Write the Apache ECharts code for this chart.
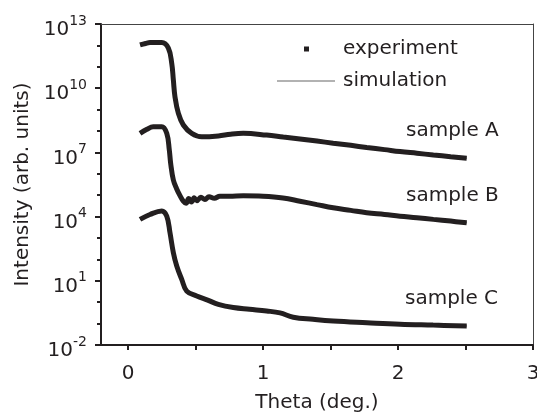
<!DOCTYPE html>
<html>
<head>
<meta charset="utf-8">
<script src="https://cdn.jsdelivr.net/npm/echarts@6/dist/echarts.min.js"></script>
<style>
    html, body { margin: 0; padding: 0; background: #fff; }
    #chart { width: 537px; height: 413px; }
</style>
</head>
<body>
<div id="chart"></div>
<script>
/* Values: theta (deg.) and log10 of intensity. */
const thetaA = [0.089, 0.13, 0.163, 0.25, 0.299, 0.324, 0.336, 0.348, 0.373, 0.41, 0.472, 0.546, 0.669, 0.76, 0.854, 1.027, 1.15, 1.274, 1.4, 1.52, 1.65, 1.768, 1.9, 2.015, 2.14, 2.262, 2.39, 2.509];
const logIntA = [12.02, 12.09, 12.13, 12.13, 11.87, 11.16, 10.38, 9.60, 8.83, 8.28, 7.89, 7.73, 7.77, 7.85, 7.89, 7.81, 7.72, 7.63, 7.53, 7.43, 7.33, 7.23, 7.13, 7.04, 6.96, 6.88, 6.80, 6.73];

const thetaB = [0.089, 0.14, 0.187, 0.25, 0.287, 0.306, 0.316, 0.336, 0.36, 0.385, 0.41, 0.43, 0.45, 0.47, 0.49, 0.51, 0.54, 0.57, 0.6, 0.64, 0.68, 0.75, 0.854, 1.0, 1.148, 1.274, 1.4, 1.52, 1.65, 1.768, 1.9, 2.015, 2.14, 2.262, 2.39, 2.509];
const logIntB = [7.89, 8.08, 8.2, 8.2, 7.89, 7.11, 6.49, 5.71, 5.3, 4.98, 4.72, 4.62, 4.85, 4.68, 4.88, 4.74, 4.9, 4.8, 4.93, 4.86, 4.95, 4.95, 4.97, 4.95, 4.87, 4.72, 4.56, 4.41, 4.29, 4.18, 4.1, 4.02, 3.95, 3.87, 3.79, 3.71];

const thetaC = [0.089, 0.163, 0.25, 0.287, 0.311, 0.336, 0.361, 0.398, 0.435, 0.509, 0.59, 0.669, 0.78, 0.9, 1.027, 1.126, 1.224, 1.37, 1.52, 1.77, 2.015, 2.26, 2.509];
const logIntC = [3.87, 4.10, 4.26, 4.02, 3.25, 2.31, 1.69, 1.07, 0.52, 0.29, 0.10, -0.10, -0.25, -0.33, -0.41, -0.50, -0.70, -0.80, -0.88, -0.96, -1.03, -1.07, -1.11];

const sampleNames = ['sample A', 'sample B', 'sample C'];
const xTickValues = [0, 0.5, 1, 1.5, 2, 2.5, 3];
const xLabelValues = [0, 1, 2, 3];

const FONT = 'DejaVu Sans';
const INK = '#231f20';

let chart = echarts.init(document.getElementById('chart'));

function pairs(xs, ys) {
    return xs.map(function (x, i) { return [x, ys[i]]; });
}

const curves = [pairs(thetaA, logIntA), pairs(thetaB, logIntB), pairs(thetaC, logIntC)];

let series = [];
curves.forEach(function (d) {
    series.push({
        name: 'experiment',
        type: 'line',
        data: d,
        symbol: 'rect',
        symbolSize: 4,
        showSymbol: false,
        smooth: 0.4,
        itemStyle: { color: INK },
        lineStyle: { color: INK, width: 5 },
        z: 2
    });
});
curves.forEach(function (d) {
    series.push({
        name: 'simulation',
        type: 'line',
        data: d,
        symbol: 'none',
        smooth: 0.4,
        itemStyle: { color: INK },
        lineStyle: { color: INK, width: 1 },
        z: 3
    });
});

let option = {
    animation: false,
    backgroundColor: '#fff',
    textStyle: { fontFamily: FONT, color: INK },
    grid: { left: 101, right: 4, top: 24, bottom: 68, outerBoundsMode: 'none', containLabel: false },
    legend: [
        {
            data: [{ name: 'experiment', icon: 'rect' }],
            left: 299,
            top: 34,
            itemWidth: 5,
            itemHeight: 5,
            selectedMode: false,
            formatter: '{s|}{name}',
            textStyle: { fontFamily: FONT, fontSize: 20, color: INK, rich: { s: { width: 29 } } }
        },
        {
            data: [{ name: 'simulation', icon: 'rect' }],
            left: 272,
            top: 66,
            itemWidth: 58,
            itemHeight: 1,
            itemStyle: { color: '#666' },
            selectedMode: false,
            formatter: '{s|}{name}',
            textStyle: { fontFamily: FONT, fontSize: 20, color: INK, rich: { s: { width: 3 } } }
        }
    ],
    xAxis: [
        {
            type: 'value',
            min: -0.2,
            max: 3,
            name: 'Theta (deg.)',
            nameLocation: 'middle',
            nameGap: 48,
            nameTextStyle: { fontFamily: FONT, fontSize: 20, color: INK },
            axisLine: { onZero: false, lineStyle: { color: INK, width: 2 } },
            axisTick: { customValues: xTickValues, length: 5, lineStyle: { color: INK, width: 2 } },
            axisLabel: {
                customValues: xLabelValues,
                margin: 19,
                fontFamily: FONT,
                fontSize: 20,
                color: INK
            },
            splitLine: { show: false }
        },
        {
            type: 'value',
            position: 'top',
            min: -0.2,
            max: 3,
            axisLine: { show: true, onZero: false, lineStyle: { color: '#444', width: 1 } },
            axisTick: { show: false },
            axisLabel: { show: false },
            splitLine: { show: false }
        }
    ],
    yAxis: [
        {
            type: 'value',
            min: -2,
            max: 13,
            interval: 3,
            name: 'Intensity (arb. units)',
            nameLocation: 'middle',
            nameGap: 68,
            nameTextStyle: { fontFamily: FONT, fontSize: 20, color: INK },
            axisLine: { show: true, onZero: false, lineStyle: { color: INK, width: 2 } },
            axisTick: { show: true, length: 6, lineStyle: { color: INK, width: 2 } },
            minorTick: { show: true, splitNumber: 3, length: 4, lineStyle: { color: INK, width: 2 } },
            axisLabel: {
                margin: 14,
                padding: [6, 0, 0, 0],
                formatter: function (v) { return '{b|10}{sup|' + v + '}'; },
                rich: {
                    b: { fontFamily: FONT, fontSize: 20, color: INK, verticalAlign: 'bottom', lineHeight: 26 },
                    sup: { fontFamily: FONT, fontSize: 14, color: INK, verticalAlign: 'top', lineHeight: 26 }
                }
            },
            splitLine: { show: false }
        },
        {
            type: 'value',
            position: 'right',
            min: -2,
            max: 13,
            axisLine: { show: true, onZero: false, lineStyle: { color: '#444', width: 1 } },
            axisTick: { show: false },
            axisLabel: { show: false },
            splitLine: { show: false }
        }
    ],
    graphic: [
        { type: 'text', left: 406, top: 121, style: { text: sampleNames[0], font: '20px "DejaVu Sans"', fill: INK } },
        { type: 'text', left: 406, top: 186, style: { text: sampleNames[1], font: '20px "DejaVu Sans"', fill: INK } },
        { type: 'text', left: 405, top: 289, style: { text: sampleNames[2], font: '20px "DejaVu Sans"', fill: INK } }
    ],
    series: series
};
chart.setOption(option);

window.addEventListener('resize', function () {
    chart.resize();
});
</script>
</body>
</html>
